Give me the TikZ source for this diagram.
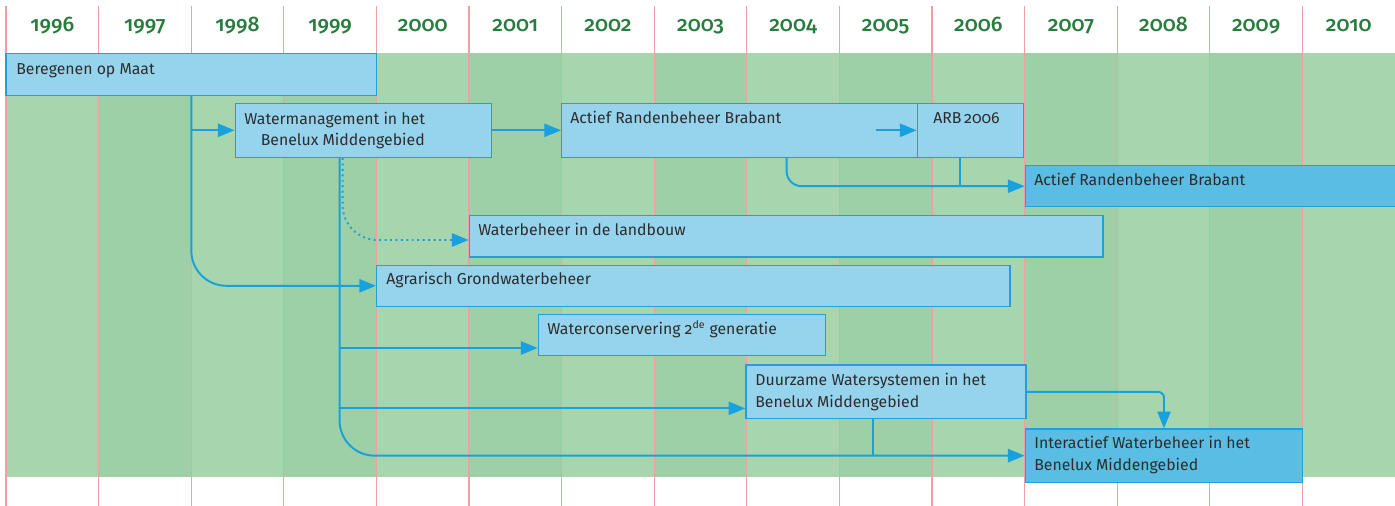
\documentclass[tikz,border=0pt]{standalone}
\usepackage{fontspec}
\setmainfont[Numbers=OldStyle]{Fira Sans}
\newfontfamily\yearfont[Numbers=OldStyle]{Fira Sans Medium}
\usetikzlibrary{arrows.meta,calc,fit}
\definecolor{bandlight}{RGB}{166,213,174}
\definecolor{banddark}{RGB}{157,208,166}
\definecolor{yearline}{RGB}{240,160,165}
\definecolor{yeargreen}{RGB}{40,125,62}
\definecolor{boxfill}{RGB}{150,212,237}
\definecolor{boxdark}{RGB}{90,189,228}
\definecolor{boxedge}{RGB}{35,160,218}
\definecolor{linkblue}{RGB}{25,160,222}
\definecolor{labelgray}{RGB}{45,45,45}

\begin{document}
\begin{tikzpicture}[>={Triangle[length=9.5pt,width=7.5pt]},x=0.02cm,y=-0.02cm,
  band0/.style={fill=bandlight},band1/.style={fill=banddark},
  prj/.style={draw=boxedge,line width=0.8pt,fill=boxfill,inner sep=0pt},
  prjnew/.style={prj,fill=boxdark},
  lbl/.style={anchor=base west,inner sep=0pt,align=left,text=labelgray,font=\fontsize{9}{12.5}\selectfont},
  link/.style={draw=linkblue,line width=1.1pt}]
\useasboundingbox (0,0) rectangle (1395,506);
% year columns
\foreach \i [evaluate=\i as \xa using 6+92.6*\i, evaluate=\i as \yr using {int(1996+\i)}, evaluate=\i as \sh using {int(mod(\i,2))}] in {0,...,14} {
  \fill[band\sh] (\xa,53.3) rectangle ++(92.6,423.4);
  \draw[yearline,line width=0.7pt] (\xa,6) -- (\xa,506);
  \node[anchor=base,text=yeargreen,font=\yearfont\fontsize{12}{14}\selectfont] (y\yr) at (\xa+46.3,32) {\yr};
}
% projects
\node[prj,fit={(6,53.3) (376.7,95.3)}] (bom) {};
\node[prj,fit={(235.3,103.3) (491.7,157.3)}] (wm) {};
\node[prj,fit={(561.7,103.3) (917.3,157.3)}] (arb) {};
\node[prj,fit={(917.3,103.3) (1023.7,157.3)}] (arb6) {};
\node[prjnew,fit={(1025.3,165.7) (1400,206.7)}] (arb2) {};
\node[prj,fit={(469.3,215.7) (1103,257)}] (wbl) {};
\node[prj,fit={(376.7,265.3) (1010,306.3)}] (agw) {};
\node[prj,fit={(538.3,314.3) (825.7,355.3)}] (wcg) {};
\node[prj,fit={(746,365) (1026,418.7)}] (dws) {};
\node[prjnew,fit={(1025.3,429) (1302.7,482.3)}] (iwb) {};
% labels (multi-line ones sit on their last baseline)
\node[lbl] (bom-t) at (16,75) {Beregenen op Maat};
\node[lbl] (wm-t) at (244,146) {Watermanagement in het\\\hspace*{0.33cm}Benelux Middengebied};
\node[lbl] (arb-t) at (570,124) {Actief Randenbeheer Brabant};
\node[lbl] (arb6-t) at (933,124) {ARB\,2006};
\node[lbl] (arb2-t) at (1034,186) {Actief Randenbeheer Brabant};
\node[lbl] (wbl-t) at (478,236) {Waterbeheer in de landbouw};
\node[lbl] (agw-t) at (386,285) {Agrarisch Grondwaterbeheer};
\node[lbl] (wcg-t) at (547,335) {Waterconservering 2\textsuperscript{de} generatie};
\node[lbl] (dws-t) at (755,407.3) {Duurzame Watersystemen in het\\Benelux Middengebied};
\node[lbl] (iwb-t) at (1034,470.7) {Interactief Waterbeheer in het\\Benelux Middengebied};
% connectors
\coordinate (wm-out) at ($(wm.south west)+(105,0)$);
\coordinate (wm-dot) at ($(wm.south west)+(108,0)$);
\coordinate (arb-out) at ($(arb.south west)+(225.6,0)$);
\coordinate (arb6-out) at ($(arb6.south west)+(43.7,0)$);
\coordinate (arb6-pre) at ($(arb6.west)+(-41,0)$);
\coordinate (wbl-in) at ($(wbl.south west)+(0,-17.7)$);
\coordinate (wcg-in) at ($(wcg.south west)+(0,-8)$);
\coordinate (dws-in) at ($(dws.south west)+(0,-11)$);
\coordinate (dws-out) at ($(dws.south west)+(128,0)$);
\draw[link,->,rounded corners=0.7cm] (bom.south) |- (agw.west);
\draw[link,->] (bom.south |- wm.west) -- (wm.west);
\draw[link,->] (wm.east) -- (arb.west);
\draw[link,->] (arb6-pre) -- (arb6.west);
\draw[link,->,rounded corners=0.3cm] (arb-out) |- (arb2.west);
\draw[link] (arb6-out) -- (arb6-out |- arb2.west);
\draw[link,->,dotted,rounded corners=0.7cm] (wm-dot) |- (wbl-in);
\draw[link,->,rounded corners=0.7cm] (wm-out) |- (iwb.west);
\draw[link,->] (wm-out |- wcg-in) -- (wcg-in);
\draw[link,->] (wm-out |- dws-in) -- (dws-in);
\draw[link] (dws-out) -- (dws-out |- iwb.west);
\draw[link,->,rounded corners=0.12cm] (dws.east) -| (iwb.north);
\end{tikzpicture}
\end{document}
